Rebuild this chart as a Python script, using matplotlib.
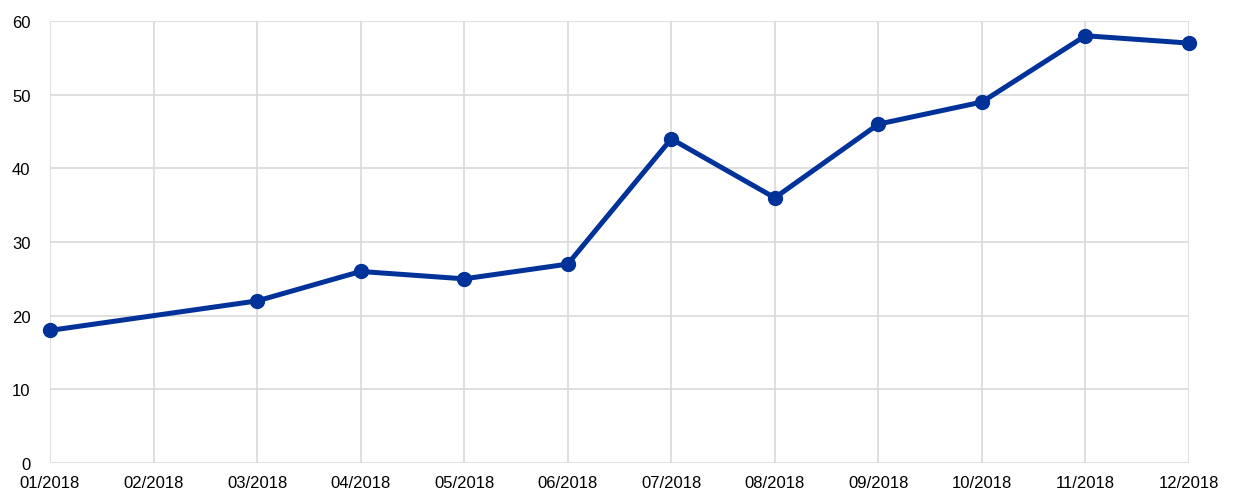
import numpy as np
import matplotlib.pyplot as plt

plt.rcParams['font.family'] = ['Liberation Sans', 'DejaVu Sans']

# monthly values (02/2018 has no observation)
months = ['01/2018', '02/2018', '03/2018', '04/2018', '05/2018', '06/2018',
          '07/2018', '08/2018', '09/2018', '10/2018', '11/2018', '12/2018']
values = [18, np.nan, 22, 26, 25, 27, 44, 36, 46, 49, 58, 57]
y_ticks = [0, 10, 20, 30, 40, 50, 60]

x = np.arange(len(months))
vals = np.array(values, dtype=float)
ok = ~np.isnan(vals)

fig = plt.figure(figsize=(12.4, 5.02), dpi=100)
ax = fig.add_axes([50 / 1240, 38 / 502, 1139 / 1240, 442 / 502])

ax.plot(x[ok], vals[ok], color='#003299', linewidth=3.6, marker='o',
        markersize=10, solid_joinstyle='round', zorder=3, clip_on=False)

ax.set_xlim(0, len(months) - 1)
ax.set_ylim(0, 60)
ax.set_xticks(x)
ax.set_xticklabels(months)
ax.set_yticks(y_ticks)

ax.grid(True, color='#d9d9d9', linewidth=1.2)
for s in ax.spines.values():
    s.set_visible(False)
ax.tick_params(length=0, labelsize=12, colors='black')
ax.tick_params(axis='y', pad=14)
ax.tick_params(axis='x', pad=9)

fig.savefig('out.png', dpi=100)
